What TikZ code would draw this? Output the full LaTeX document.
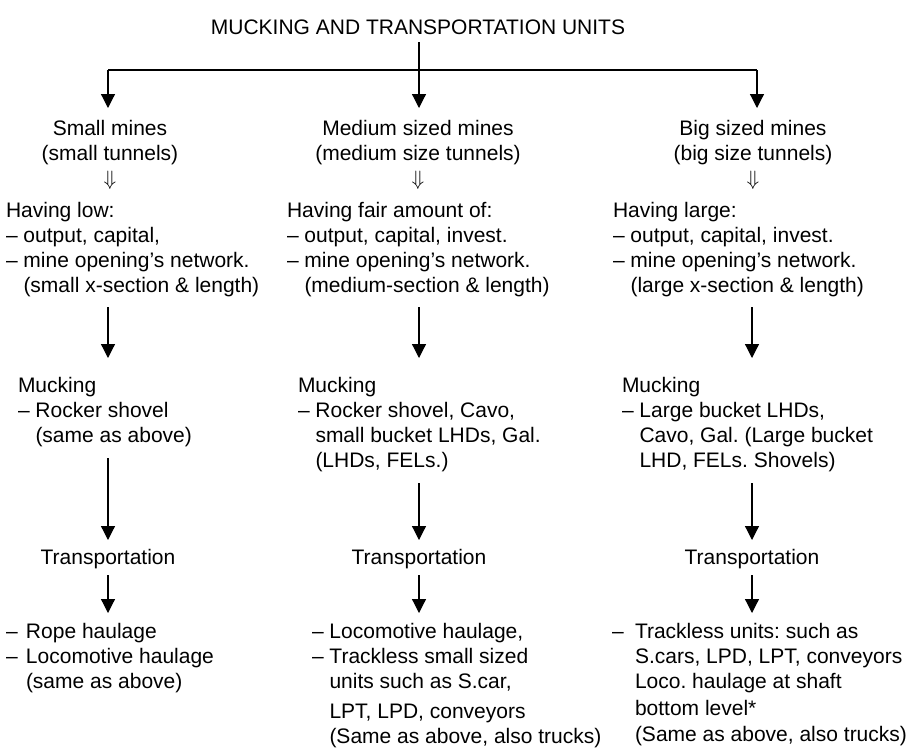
\documentclass[tikz,border=0pt]{standalone}
\usepackage{fontspec}
\setmainfont{Liberation Sans}
\usetikzlibrary{arrows.meta}
\newcommand{\ms}{\strut}
\newcommand{\ind}{\hspace*{17.5pt}}
\frenchspacing
\begin{document}
\begin{tikzpicture}[x=1pt,y=-1pt,
  txt/.style={inner sep=0pt, outer sep=0pt, font=\fontsize{21}{25}\selectfont\frenchspacing, align=left, anchor=north west},
  ctxt/.style={txt, align=center, anchor=north},
  arr/.style={line width=1.2pt, -{Triangle[length=14pt,width=14pt]}},
  ln/.style={line width=1.2pt}]
\useasboundingbox (0,0) rectangle (916,748);

% column coordinates
\coordinate (xL) at (108,0);
\coordinate (xM) at (419,0);
\coordinate (xR) at (752,0);
\coordinate (jL) at (108,70);
\coordinate (jM) at (419,70);
\coordinate (jR) at (757,70);

% title
\node[inner sep=0pt, font=\fontsize{21}{25}\selectfont, anchor=base] (title) at (418,34.5) {MUCKING AND TRANSPORTATION UNITS};

% level 1
\node[ctxt] (A1) at (110,118) {\ms Small mines\\\ms(small tunnels)\\\ms$\Downarrow$};
\node[ctxt] (B1) at (418,118) {\ms Medium sized mines\\\ms(medium size tunnels)\\\ms$\Downarrow$};
\node[ctxt] (C1) at (753,118) {\ms Big sized mines\\\ms(big size tunnels)\\\ms$\Downarrow$};

% level 2
\node[txt] (A2) at (6,200) {\ms Having low:\\\ms – output, capital,\\\ms – mine opening’s network.\\\ms\ind(small x-section \& length)};
\node[txt] (B2) at (287,200) {\ms Having fair amount of:\\\ms – output, capital, invest.\\\ms – mine opening’s network.\\\ms\ind(medium-section \& length)};
\node[txt] (C2) at (613,200) {\ms Having large:\\\ms – output, capital, invest.\\\ms – mine opening’s network.\\\ms\ind(large x-section \& length)};

% level 3
\node[txt] (A3) at (18,375) {\ms Mucking\\\ms – Rocker shovel\\\ms\ind(same as above)};
\node[txt] (B3) at (298,375) {\ms Mucking\\\ms – Rocker shovel, Cavo,\\\ms\ind small bucket LHDs, Gal.\\\ms\ind(LHDs, FELs.)};
\node[txt] (C3) at (622,375) {\ms Mucking\\\ms – Large bucket LHDs,\\\ms\ind Cavo, Gal. (Large bucket\\\ms\ind LHD, FELs. Shovels)};

% level 4
\node[ctxt] (A4) at (108,547) {\ms Transportation};
\node[ctxt] (B4) at (419,547) {\ms Transportation};
\node[ctxt] (C4) at (752,547) {\ms Transportation};

% level 5
\node[txt] (A5) at (6,621) {\ms\makebox[20pt][l]{–}Rope haulage\\\ms\makebox[20pt][l]{–}Locomotive haulage\\\ms\hspace*{20pt}(same as above)};
\node[txt] (B5) at (312,621) {\ms – Locomotive haulage,\\\ms – Trackless small sized\\\ms\ind units such as S.car,\\[5pt]\ms\ind LPT, LPD, conveyors\\\ms\ind(Same as above, also trucks)};
\node[txt] (C5) at (612,621) {\ms\makebox[23pt][l]{–}Trackless units: such as\\\ms\hspace*{23pt}S.cars, LPD, LPT, conveyors\\\ms\hspace*{23pt}Loco. haulage at shaft\\[2pt]\ms\hspace*{23pt}bottom level*\\[1pt]\ms\hspace*{23pt}(Same as above, also trucks)};

% connectors
\draw[ln] (jL) -- (jR);
\draw[arr, shorten <=7.5pt, shorten >=10pt] (title.south -| xM) -- (B1.north -| xM);
\draw[arr, shorten >=10pt] (jL) -- (A1.north -| jL);
\draw[arr, shorten >=10pt] (jR) -- (C1.north -| jR);

\draw[arr, shorten <=7pt, shorten >=17pt] (A2.south -| xL) -- (A3.north -| xL);
\draw[arr, shorten <=7pt, shorten >=17pt] (B2.south -| xM) -- (B3.north -| xM);
\draw[arr, shorten <=7pt, shorten >=17pt] (C2.south -| xR) -- (C3.north -| xR);

\draw[arr, shorten <=8pt, shorten >=7pt] (A3.south -| xL) -- (A4.north -| xL);
\draw[arr, shorten <=8pt, shorten >=7pt] (B3.south -| xM) -- (B4.north -| xM);
\draw[arr, shorten <=8pt, shorten >=7pt] (C3.south -| xR) -- (C4.north -| xR);

\draw[arr, shorten <=3pt, shorten >=8pt] (A4.south -| xL) -- (A5.north -| xL);
\draw[arr, shorten <=3pt, shorten >=8pt] (B4.south -| xM) -- (B5.north -| xM);
\draw[arr, shorten <=3pt, shorten >=8pt] (C4.south -| xR) -- (C5.north -| xR);
\end{tikzpicture}
\end{document}
